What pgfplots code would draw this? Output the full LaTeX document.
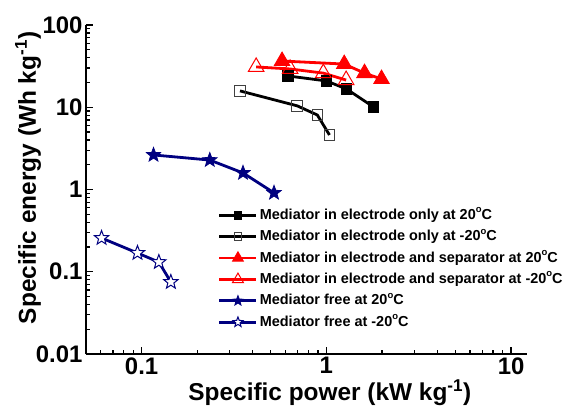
\documentclass[border=0pt]{standalone}
\usepackage{fontspec}
\setmainfont{Liberation Sans}
\usepackage{pgfplots}
\pgfplotsset{compat=1.18}
\definecolor{navy}{RGB}{0,0,128}

% five-pointed star outline, filled and stroked
\pgfdeclareplotmark{fstar}{%
  \pgfpathmoveto{\pgfqpointpolar{90}{\pgfplotmarksize}}%
  \pgfpathlineto{\pgfqpointpolar{126}{0.42\pgfplotmarksize}}%
  \pgfpathlineto{\pgfqpointpolar{162}{\pgfplotmarksize}}%
  \pgfpathlineto{\pgfqpointpolar{198}{0.42\pgfplotmarksize}}%
  \pgfpathlineto{\pgfqpointpolar{234}{\pgfplotmarksize}}%
  \pgfpathlineto{\pgfqpointpolar{270}{0.42\pgfplotmarksize}}%
  \pgfpathlineto{\pgfqpointpolar{306}{\pgfplotmarksize}}%
  \pgfpathlineto{\pgfqpointpolar{342}{0.42\pgfplotmarksize}}%
  \pgfpathlineto{\pgfqpointpolar{18}{\pgfplotmarksize}}%
  \pgfpathlineto{\pgfqpointpolar{54}{0.42\pgfplotmarksize}}%
  \pgfpathclose
  \pgfusepathqfillstroke
}

\newcommand{\dg}{\raisebox{0.85ex}{\fontsize{9.5}{10}\selectfont o}}

\begin{document}
\begin{tikzpicture}
\begin{axis}[
    scale only axis,
    width=441bp, height=329bp,
    xmode=log, ymode=log,
    xmin=0.05, xmax=12.2,
    ymin=0.01, ymax=100,
    axis lines=left,
    axis line style={-, line width=1.8bp},
    tick align=inside,
    major tick length=7bp,
    minor tick length=4bp,
    tick style={black, line width=1.3bp},
    log ticks with fixed point,
    /pgf/number format/assume math mode=true,
    ticklabel style={font=\bfseries\fontsize{24}{27}\selectfont},
    label style={font=\bfseries\fontsize{24.5}{28}\selectfont},
    xlabel={Specific power (kW kg\textsuperscript{-1})},
    ylabel={Specific energy (Wh kg\textsuperscript{-1})},
    xlabel style={at={(axis description cs:0.553,-0.1185)}, anchor=center},
    ylabel style={at={(axis description cs:-0.1315,0.535)}, anchor=center},
    legend cell align=left,
    legend style={
        at={(axis description cs:0.299,0.455)}, anchor=north west,
        draw=none, fill=none, inner sep=0pt, row sep=0pt,
        font=\bfseries\fontsize{14.5}{17}\selectfont,
        nodes={text height=11bp, text depth=3bp, inner ysep=3.7bp, inner xsep=2bp},
    },
    legend image code/.code={
        \draw[mark repeat=2, mark phase=2, #1, every mark/.append style={scale=0.7}]
            plot coordinates {(0bp,0bp) (18.5bp,0bp) (37bp,0bp)};
    },
]

% mediator in electrode only, 20 C
\addplot[black, line width=2.8bp, mark=square*, mark size=5.3bp,
    mark options={solid, fill=black, line width=0.8bp}]
    coordinates {(0.621,24.0) (1.0,20.9) (1.284,16.7) (1.80,10.1)};

% mediator in electrode only, -20 C
\addplot[black, line width=2.8bp, mark=square, mark size=5.3bp,
    mark options={solid, fill=white, draw=black!75, line width=1bp}]
    coordinates {(0.341,15.8) (0.696,10.4) (0.894,8.05) (1.04,4.6)};

% electrode and separator, 20 C
\addplot[red, line width=2.8bp, mark=triangle*, mark size=9bp,
    mark options={solid, fill=red, line width=0.8bp}]
    coordinates {(0.576,36.5) (1.25,33.5) (1.61,26.0) (1.99,22.0)};

% electrode and separator, -20 C
\addplot[red, line width=2.8bp, mark=triangle, mark size=9bp,
    mark options={solid, fill=white, draw=red, line width=1bp}]
    coordinates {(0.417,30.9) (0.637,29.2) (0.963,26.0) (1.28,21.4)};

% mediator free, 20 C
\addplot[navy, line width=2.8bp, mark=fstar, mark size=7.5bp,
    mark options={solid, fill=navy, line width=0.8bp}]
    coordinates {(0.116,2.63) (0.234,2.28) (0.354,1.59) (0.521,0.91)};

% mediator free, -20 C
\addplot[navy, line width=2.8bp, mark=fstar, mark size=7.5bp,
    mark options={solid, fill=white, draw=navy, line width=1bp}]
    coordinates {(0.0607,0.257) (0.095,0.169) (0.124,0.131) (0.144,0.075)};

\legend{Mediator in electrode only at 20\dg C,
        Mediator in electrode only at -20\dg C,
        Mediator in electrode and separator at 20\dg C,
        Mediator in electrode and separator at -20\dg C,
        Mediator free at 20\dg C,
        Mediator free at -20\dg C}

\coordinate (o) at (rel axis cs:0,0);
\end{axis}
\pgfresetboundingbox
\path (o) ++(-86bp,-52bp) rectangle ++(569bp,406bp);
\end{tikzpicture}
\end{document}
